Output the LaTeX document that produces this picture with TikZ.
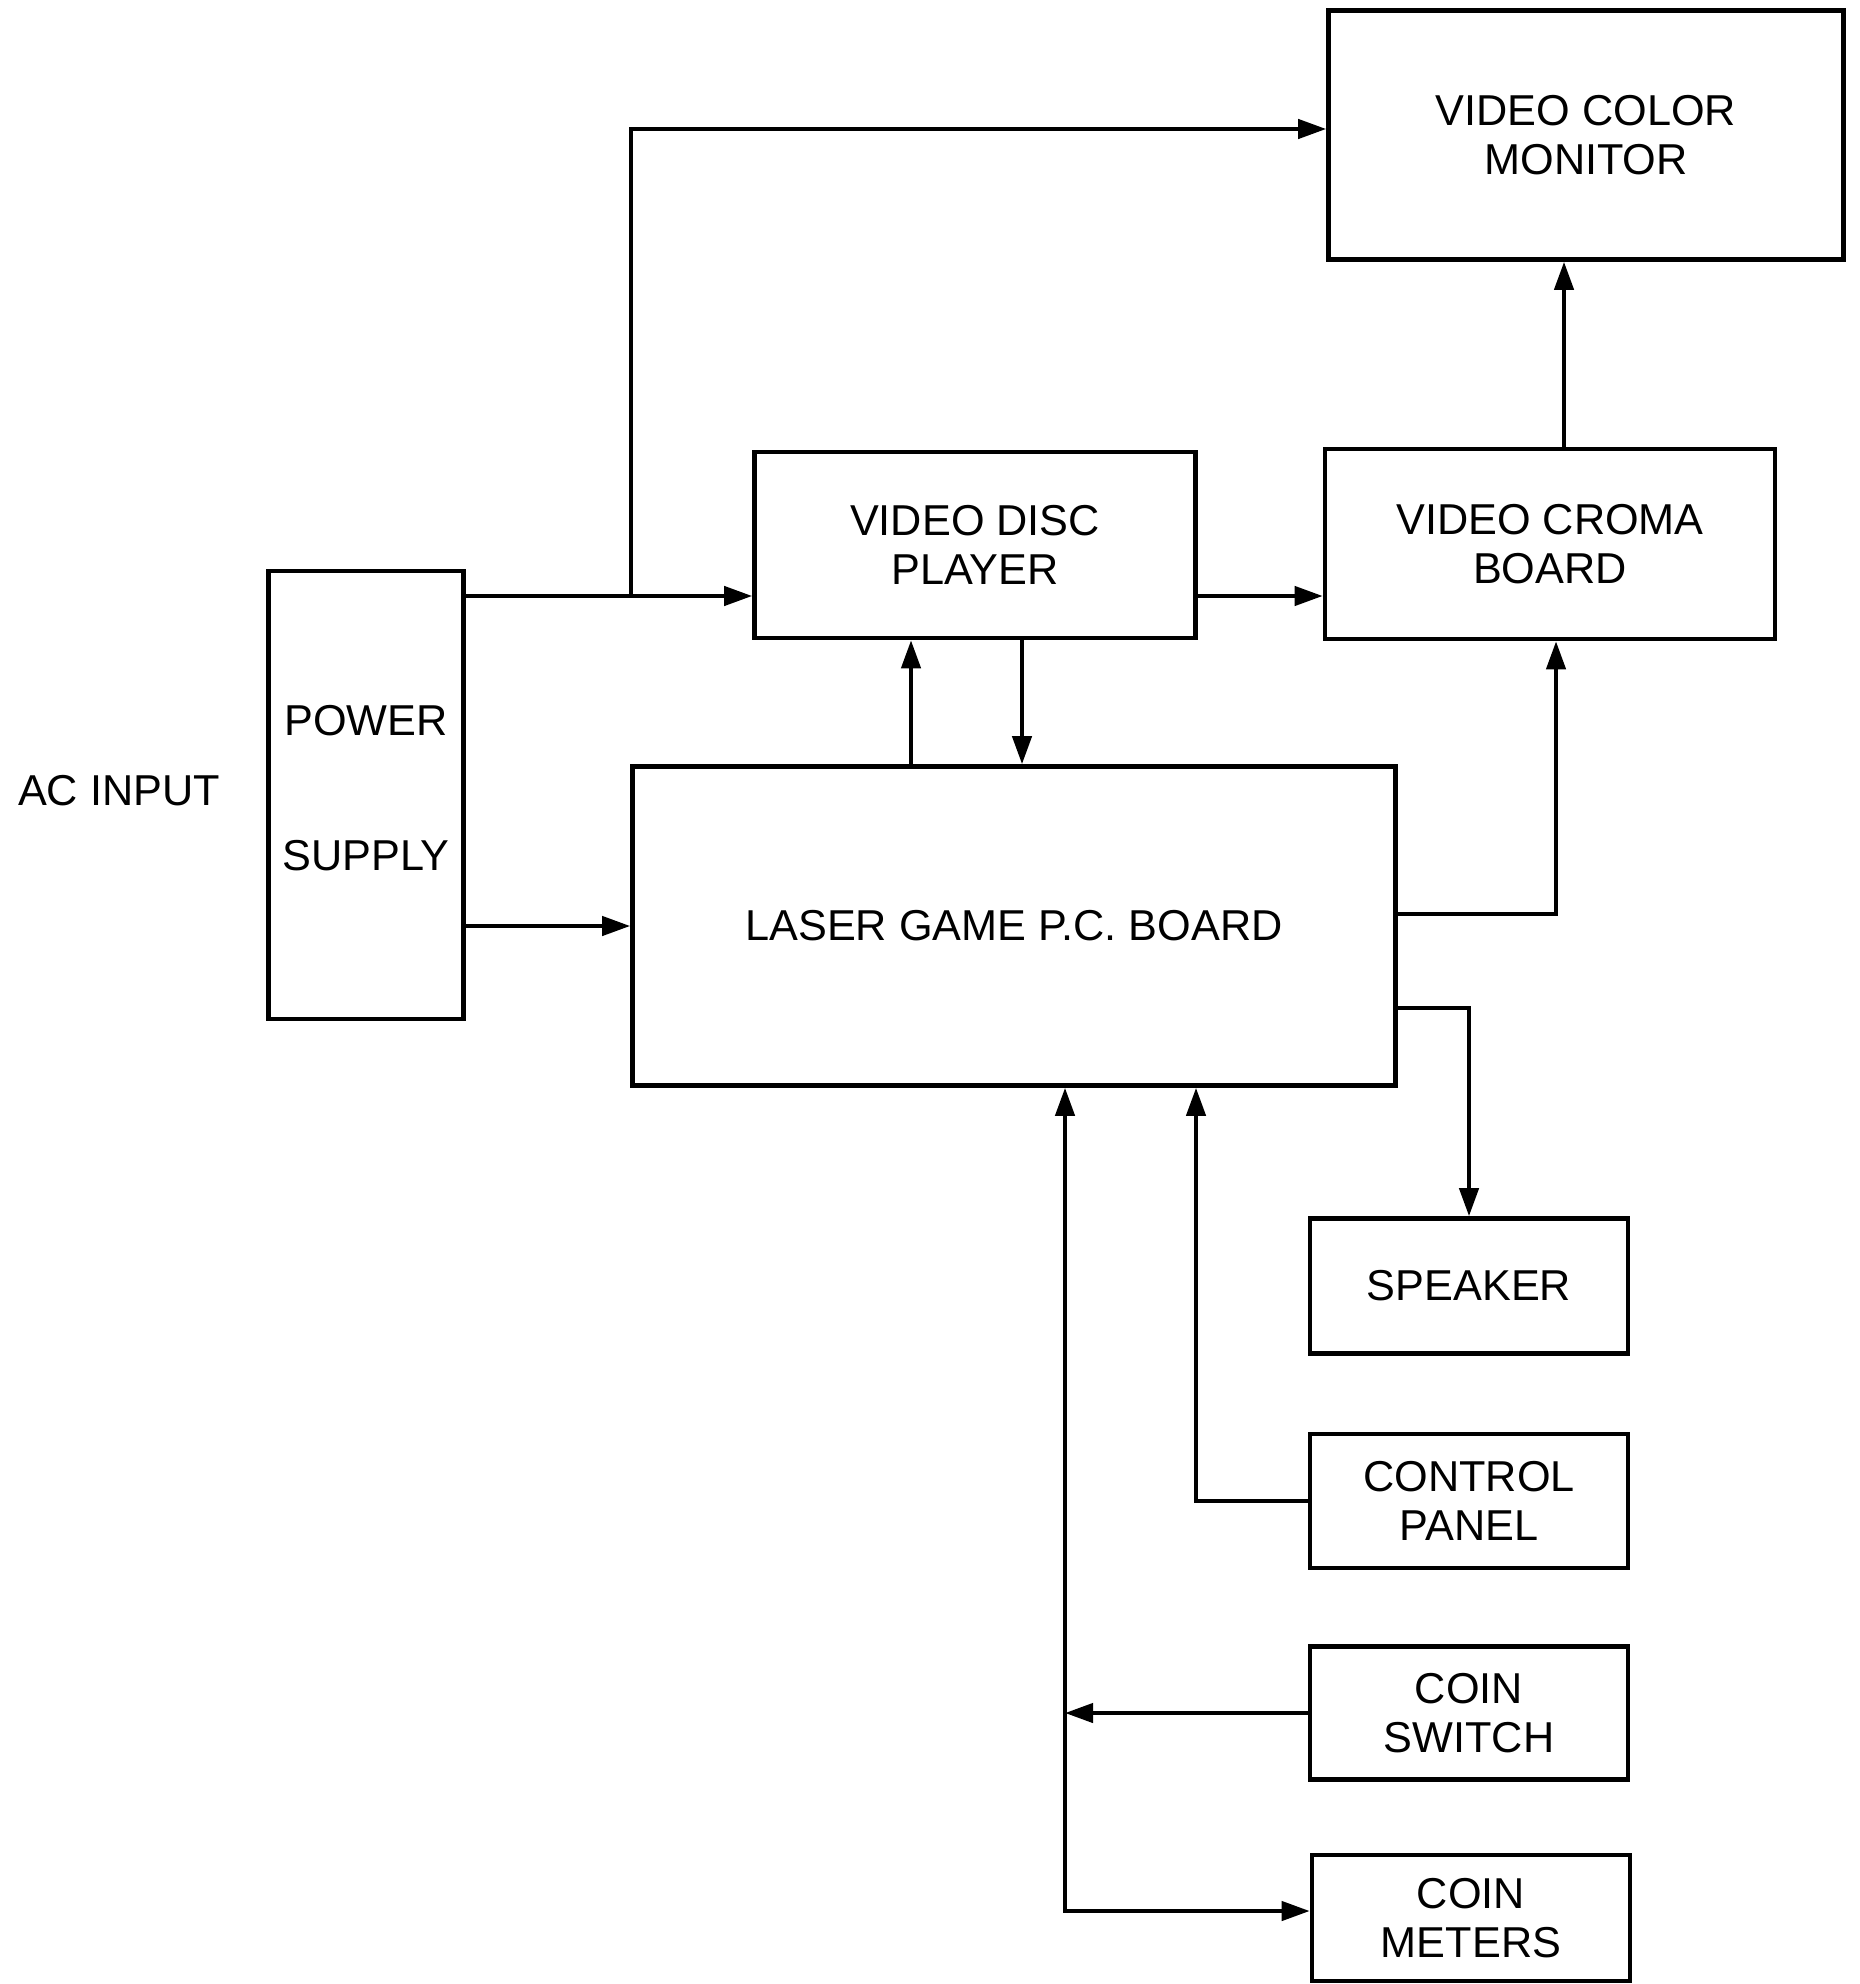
\documentclass[tikz,border=0pt]{standalone}
\usepackage{fontspec}
\setmainfont{Liberation Sans}
\usetikzlibrary{arrows.meta, positioning, calc}
\tikzset{
  every node/.style={font=\fontsize{12.3}{14}\selectfont},
  block/.style={
    draw=black, line width=1.3pt, align=center, inner sep=0pt
  },
  smallblock/.style={block, minimum width=3.18cm, minimum height=1.34cm},
  arr/.style={-{Triangle[length=2.8mm,width=1.9mm]}, line width=1.2pt},
  darr/.style={{Triangle[length=2.8mm,width=1.9mm]}-{Triangle[length=2.8mm,width=1.9mm]}, line width=1.2pt},
}

\begin{document}
\begin{tikzpicture}
  \useasboundingbox (0,0) rectangle (18.6,-19.84);

  % Top row
  \node[block, minimum width=5.15cm, minimum height=2.49cm] (mon) at (15.86,-1.35)
    {VIDEO COLOR\\MONITOR};
  \node[block, minimum width=4.41cm, minimum height=1.86cm] (vdp) at (9.75,-5.45)
    {VIDEO DISC\\PLAYER};
  \node[block, minimum width=4.50cm, minimum height=1.90cm] (croma) at (15.50,-5.44)
    {VIDEO CROMA\\BOARD};

  % Power and main board
  \node[block, minimum width=1.95cm, minimum height=4.48cm, text depth=0.14cm] (psu) at (3.66,-7.95)
    {POWER\\[0.85cm]SUPPLY};
  \node (acin) at (1.19,-7.91) {AC INPUT};
  \node[block, minimum width=7.63cm, minimum height=3.19cm] (pcb) at (10.14,-9.26)
    {LASER GAME P.C. BOARD};

  % Peripherals
  \node[smallblock, minimum height=1.35cm] (spk) at (14.69,-12.86) {SPEAKER};
  \node[smallblock] (ctrl) at (14.69,-15.01) {CONTROL\\PANEL};
  \node[smallblock, minimum height=1.33cm] (csw) at (14.69,-17.13) {COIN\\SWITCH};
  \node[smallblock, minimum height=1.26cm] (cmt) at (14.71,-19.18) {COIN\\METERS};

  % Helper points
  \coordinate (split) at (6.31,-5.96);
  \coordinate (up) at ([xshift=-6.4mm]vdp.south);
  \coordinate (dn) at ([xshift=4.7mm]vdp.south);
  \coordinate (ctrlbus) at ([xshift=1.82cm]pcb.south);
  \coordinate (coinbus) at ([xshift=0.51cm]pcb.south);

  % Power feeds
  \draw[arr] (psu.east |- split) -- (vdp.west |- split);
  \draw[arr] (split) |- ([yshift=0.6mm]mon.west);
  \draw[arr] (psu.east |- pcb.west) -- (pcb.west);

  % Video path
  \draw[arr] (vdp.east |- split) -- (croma.west |- split);
  \draw[arr] ([xshift=1.4mm]croma.north) -- ([xshift=1.4mm]croma.north |- mon.south);

  % Board <-> disc player
  \draw[arr] (up |- pcb.north) -- (up);
  \draw[arr] (dn) -- (dn |- pcb.north);

  % Board outputs
  \draw[arr] ([yshift=1.2mm]pcb.east) -| ([xshift=0.6mm]croma.south);
  \draw[arr] ([yshift=-8.2mm]pcb.east) -| (spk.north);

  % Inputs from cabinet
  \draw[arr] (ctrl.west) -| (ctrlbus);
  \draw[darr] (coinbus) |- ([yshift=0.7mm]cmt.west);
  \draw[arr] (csw.west) -- (csw.west -| coinbus);
\end{tikzpicture}
\end{document}
